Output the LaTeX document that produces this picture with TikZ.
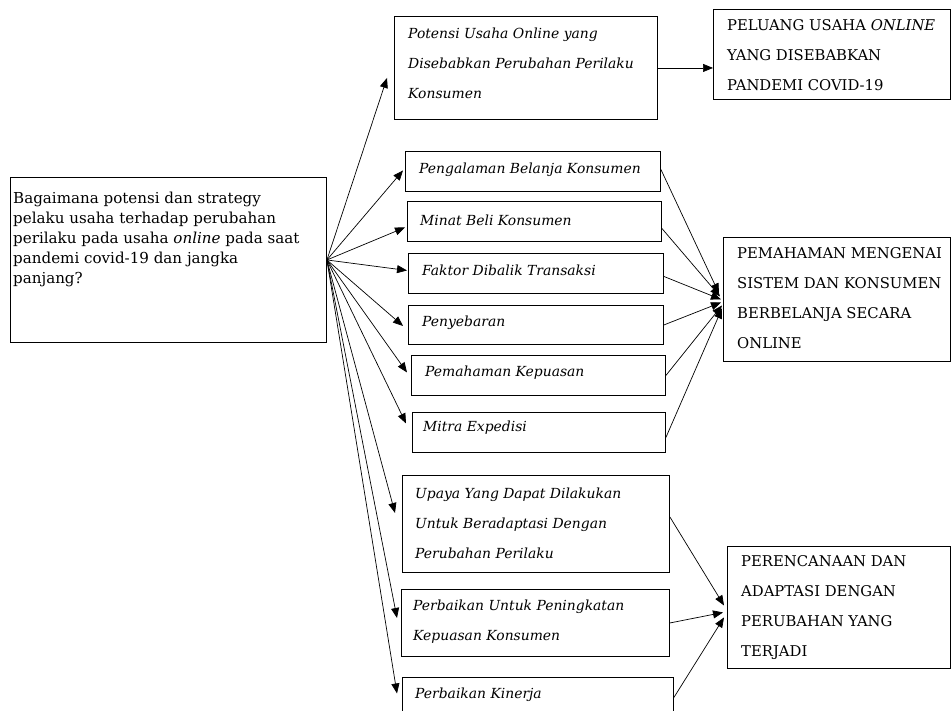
\documentclass[tikz,border=0pt]{standalone}
\usepackage{fontspec}
\setmainfont{DejaVu Serif}
\usetikzlibrary{arrows.meta}
\begin{document}
\begin{tikzpicture}[x=1pt,y=-1pt,
  box/.style={draw, line width=0.9pt, inner sep=0pt, anchor=north west},
  qtxt/.style={inner sep=0pt, anchor=west, align=left, font=\fontsize{15.1}{20}\selectfont},
  itxt/.style={inner sep=0pt, anchor=west, align=left, font=\fontsize{13.9}{30}\selectfont\itshape},
  ctxt/.style={inner sep=0pt, anchor=west, align=left, font=\fontsize{14.8}{30}\selectfont},
  arr/.style={line width=0.7pt, -{Triangle[length=10pt,width=8pt]}}]
\useasboundingbox (0,0) rectangle (952,710);
\clip (0,0) rectangle (952,710);
% boxes
\node[box, minimum width=316pt, minimum height=165pt] (q) at (10,177) {};
\node[box, minimum width=263pt, minimum height=103pt] (pot) at (394,16) {};
\node[box, minimum width=237pt, minimum height=90pt] (pel) at (713,9) {};
\node[box, minimum width=255pt, minimum height=40pt] (peng) at (405,151) {};
\node[box, minimum width=254pt, minimum height=40pt] (minat) at (407,201) {};
\node[box, minimum width=255pt, minimum height=40pt] (fak) at (408,253) {};
\node[box, minimum width=255pt, minimum height=39pt] (peny) at (408,305) {};
\node[box, minimum width=254pt, minimum height=40pt] (pkep) at (411,355) {};
\node[box, minimum width=253pt, minimum height=40pt] (mitra) at (412,412) {};
\node[box, minimum width=227pt, minimum height=124pt] (pem) at (723,237) {};
\node[box, minimum width=267pt, minimum height=97pt] (upaya) at (402,475) {};
\node[box, minimum width=268pt, minimum height=67pt] (perb) at (401,589) {};
\node[box, minimum width=271pt, minimum height=40pt] (kin) at (402,677) {};
\node[box, minimum width=223pt, minimum height=122pt] (ren) at (727,546) {};
% texts
\node[qtxt] (qt) at (13,239) {Bagaimana potensi dan strategy\\pelaku usaha terhadap perubahan\\perilaku pada usaha \textit{online} pada saat\\pandemi covid-19 dan jangka\\panjang?};
\node[itxt] (pott) at (408,63) {Potensi Usaha Online yang\\Disebabkan Perubahan Perilaku\\Konsumen};
\node[ctxt] (pelt) at (727,55) {PELUANG USAHA \textit{ONLINE}\\YANG DISEBABKAN\\PANDEMI COVID-19};
\node[itxt] (pengt) at (419,170) {Pengalaman Belanja Konsumen};
\node[itxt] (minatt) at (420,220) {Minat Beli Konsumen};
\node[itxt] (fakt) at (422,270) {Faktor Dibalik Transaksi};
\node[itxt] (penyt) at (422,323) {Penyebaran};
\node[itxt] (pkept) at (425,373) {Pemahaman Kepuasan};
\node[itxt] (mitrat) at (423,428) {Mitra Expedisi};
\node[ctxt] (pemt) at (737,298) {PEMAHAMAN MENGENAI\\SISTEM DAN KONSUMEN\\BERBELANJA SECARA\\ONLINE};
\node[itxt] (upayat) at (415,523) {Upaya Yang Dapat Dilakukan\\Untuk Beradaptasi Dengan\\Perubahan Perilaku};
\node[itxt] (perbt) at (413,622) {Perbaikan Untuk Peningkatan\\Kepuasan Konsumen};
\node[itxt] (kint) at (415,695) {Perbaikan Kinerja};
\node[ctxt] (rent) at (741,608) {PERENCANAAN DAN\\ADAPTASI DENGAN\\PERUBAHAN YANG\\TERJADI};
% fan from question
\draw[arr] (q.east) -- ([xshift=-7pt,yshift=-10pt]pot.west);
\draw[arr] (q.east) -- ([xshift=-2pt,yshift=1pt]peng.west);
\draw[arr] (q.east) -- ([xshift=-2pt,yshift=-6pt]minat.west);
\draw[arr] (q.east) -- ([xshift=-1pt,yshift=3pt]fak.west);
\draw[arr] (q.east) -- ([xshift=-5pt,yshift=-1pt]peny.west);
\draw[arr] (q.east) -- ([xshift=-4pt,yshift=3pt]pkep.west);
\draw[arr] (q.east) -- ([xshift=-6pt,yshift=9pt]mitra.west);
\draw[arr] (q.east) -- ([xshift=-7pt,yshift=11pt]upaya.west);
\draw[arr] (q.east) -- ([xshift=-4pt,yshift=5pt]perb.west);
\draw[arr] (q.east) -- ([xshift=-5pt,yshift=4pt]kin.west);
% top
\draw[arr] (pot.east) -- (pot.east -| pel.west);
% converge to pem
\draw[arr] ([yshift=2pt]peng.east) -- ([xshift=-4pt,yshift=6pt]pem.west);
\draw[arr] ([yshift=-7pt]minat.east) -- ([xshift=-3pt,yshift=3pt]pem.west);
\draw[arr] ([yshift=-3pt]fak.east) -- ([xshift=-2pt,yshift=0pt]pem.west);
\draw[arr] (peny.east) -- ([xshift=-2pt,yshift=-3pt]pem.west);
\draw[arr] (pkep.east) -- ([xshift=-1pt,yshift=-6pt]pem.west);
\draw[arr] ([yshift=-5pt]mitra.east) -- ([xshift=-1pt,yshift=-9pt]pem.west);
% converge to ren
\draw[arr] ([yshift=7pt]upaya.east) -- ([xshift=-3pt,yshift=2pt]ren.west);
\draw[arr] (perb.east) -- ([xshift=-4pt,yshift=-5pt]ren.west);
\draw[arr] (kin.east) -- ([xshift=-3pt,yshift=-10pt]ren.west);
\end{tikzpicture}
\end{document}
